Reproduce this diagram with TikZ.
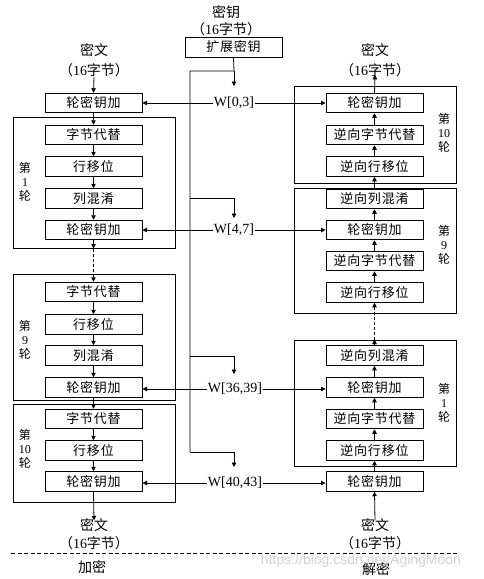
\documentclass[tikz,border=0pt]{standalone}
\usepackage{fontspec}
\setmainfont{Liberation Serif}
\setsansfont{Liberation Sans}
\newfontfamily\cjk{Noto Sans CJK SC}
\newfontfamily\cjkbox[LetterSpace=6]{Noto Sans CJK SC}
\usetikzlibrary{arrows.meta}
\begin{document}
\begin{tikzpicture}[x=1pt,y=-1pt,
 blk/.style={draw,line width=1pt,minimum width=97pt,minimum height=19.5pt,inner sep=0pt,font=\cjkbox\fontsize{13}{15}\selectfont},
 rnd/.style={draw,line width=1pt,inner sep=0pt,minimum width=162pt},
 arr/.style={-{Triangle[length=4.5pt,width=4.5pt]},line width=0.8pt},
 dsh/.style={arr,dash pattern=on 3pt off 2pt},
 lbl/.style={font=\cjk\fontsize{12}{16}\selectfont,align=center,inner sep=0pt},
 wl/.style={font=\fontsize{14}{16}\selectfont,inner sep=1pt},
 ttl/.style={font=\cjk\fontsize{14}{18}\selectfont,inner sep=0pt},
 num/.style={font=\fontsize{14}{18}\selectfont,inner sep=0pt}]
\useasboundingbox (0,0) rectangle (483,579);
% outer round boxes
\node[rnd,minimum height=131pt] (L1) at (94,182.5) {};
\node[rnd,minimum height=126pt] (L9) at (94,337) {};
\node[rnd,minimum height=98pt] (L10) at (94,453) {};
\node[rnd,minimum height=97pt] (R10) at (375,134.5) {};
\node[rnd,minimum height=125pt] (R9) at (375,250.5) {};
\node[rnd,minimum height=126pt] (R1) at (375,403) {};
% round labels
\node[lbl] (lL1) at (25,182) {第\\[-2pt]{\rmfamily 1}\\[-2pt]轮};
\node[lbl] (lL9) at (25,340) {第\\[-2pt]{\rmfamily 9}\\[-2pt]轮};
\node[lbl] (lL10) at (25,449) {第\\[-2pt]{\rmfamily 10}\\[-2pt]轮};
\node[lbl] (lR10) at (444,133) {第\\[-2pt]{\rmfamily 10}\\[-2pt]轮};
\node[lbl] (lR9) at (444,245) {第\\[-2pt]{\rmfamily 9}\\[-2pt]轮};
\node[lbl] (lR1) at (444,403) {第\\[-2pt]{\rmfamily 1}\\[-2pt]轮};
% left column
\node[ttl] (lt1) at (94,50) {密文};
\node[ttl] (lt2) at (94,70) {（{\rmfamily 16}字节）};
\node[blk] (k0) at (93.5,103) {轮密钥加};
\node[blk] (a1) at (93.5,135) {字节代替};
\node[blk] (b1) at (93.5,166.5) {行移位};
\node[blk] (c1) at (93.5,198.5) {列混淆};
\node[blk] (d1) at (93.5,230) {轮密钥加};
\node[blk] (a9) at (93.5,292) {字节代替};
\node[blk] (b9) at (93.5,324.5) {行移位};
\node[blk] (c9) at (93.5,355.5) {列混淆};
\node[blk] (d9) at (93.5,387.5) {轮密钥加};
\node[blk] (a10) at (93.5,419) {字节代替};
\node[blk] (b10) at (93.5,450.5) {行移位};
\node[blk] (d10) at (93.5,481.5) {轮密钥加};
\node[ttl] (lb1) at (94,525) {密文};
\node[ttl] (lb2) at (94,543) {（{\rmfamily 16}字节）};
% right column
\node[ttl] (rt1) at (375,50) {密文};
\node[ttl] (rt2) at (375,70) {（{\rmfamily 16}字节）};
\node[blk] (r10k) at (374.5,103) {轮密钥加};
\node[blk] (r10sb) at (374.5,135) {逆向字节代替};
\node[blk] (r10sr) at (374.5,166.5) {逆向行移位};
\node[blk] (r9mc) at (374.5,199) {逆向列混淆};
\node[blk] (r9k) at (374.5,230) {轮密钥加};
\node[blk] (r9sb) at (374.5,261) {逆向字节代替};
\node[blk] (r9sr) at (374.5,292.5) {逆向行移位};
\node[blk] (r1mc) at (374.5,355.5) {逆向列混淆};
\node[blk] (r1k) at (374.5,387.5) {轮密钥加};
\node[blk] (r1sb) at (374.5,419) {逆向字节代替};
\node[blk] (r1sr) at (374.5,450.5) {逆向行移位};
\node[blk] (r0k) at (374.5,481.5) {轮密钥加};
\node[ttl] (rb1) at (375,525) {密文};
\node[ttl] (rb2) at (375,543) {（{\rmfamily 16}字节）};
% key
\node[ttl] (kt1) at (226,12) {密钥};
\node[ttl] (kt2) at (226,29) {（{\rmfamily 16}字节）};
\node[blk,minimum height=20pt] (ke) at (233.5,47) {扩展密钥};
\coordinate (j0) at (234,71);
\coordinate (v0) at (190,71);
\coordinate (v1) at (190,198);
\coordinate (v2) at (190,356);
\coordinate (v3) at (190,452);
\coordinate (t0) at (234,86);
\coordinate (t1) at (234,218);
\coordinate (t2) at (234,374);
\coordinate (t3) at (234,467);
\node[wl] (w0) at (234,103) {W[0,3]};
\node[wl] (w1) at (234,230) {W[4,7]};
\node[wl] (w2) at (235,389) {W[36,39]};
\node[wl] (w3) at (235,483) {W[40,43]};
\draw[line width=0.8pt] (ke.south) -- (j0) -- (v0) -- (v3);
\draw[arr] (j0) -- (t0);
\draw[arr] (v1) -| (t1);
\draw[arr] (v2) -| (t2);
\draw[arr] (v3) -| (t3);
\draw[arr] (w0.west) -- (k0.east);
\draw[arr] (w0.east) -- (r10k.west);
\draw[arr] (w1.west) -- (d1.east);
\draw[arr] (w1.east) -- (r9k.west);
\draw[arr] (w2.west) -- (d9.east |- w2.west);
\draw[arr] (w2.east) -- (r1k.west |- w2.east);
\draw[arr] (w3.west) -- (d10.east |- w3.west);
\draw[arr] (w3.east) -- (r0k.west |- w3.east);
% left flow
\draw[arr] (lt2.south) -- (k0.north);
\draw[arr] (k0) -- (a1);
\draw[arr] (a1) -- (b1);
\draw[arr] (b1) -- (c1);
\draw[arr] (c1) -- (d1);
\draw[arr] (d1.south) -- (d1.south |- L1.south);
\draw[dsh] (d1.south |- L1.south) -- (a9.north);
\draw[arr] (a9) -- (b9);
\draw[arr] (b9) -- (c9);
\draw[arr] (c9) -- (d9);
\draw[arr] (d9) -- (a10);
\draw[arr] (a10) -- (b10);
\draw[arr] (b10) -- (d10);
\draw[arr] (d10.south) -- ([yshift=-2pt]lb1.north);
% right flow
\draw[arr] ([yshift=-2pt]rb1.north) -- (r0k.south);
\draw[arr] (r0k) -- (r1sr);
\draw[arr] (r1sr) -- (r1sb);
\draw[arr] (r1sb) -- (r1k);
\draw[arr] (r1k) -- (r1mc);
\draw[arr] (r1mc.north) -- (r1mc.north |- R1.north);
\draw[dsh] (r1mc.north |- R1.north) -- (r9sr.south);
\draw[arr] (r9sr) -- (r9sb);
\draw[arr] (r9sb) -- (r9k);
\draw[arr] (r9k) -- (r9mc);
\draw[arr] (r9mc) -- (r10sr);
\draw[arr] (r10sr) -- (r10sb);
\draw[arr] (r10sb) -- (r10k);
\draw[arr] (r10k.north) -- ([yshift=2pt]rt2.south);
% bottom
\coordinate (dl) at (11,553);
\coordinate (dr) at (457,553);
\draw[line width=0.8pt,dash pattern=on 4pt off 2.5pt] (dl) -- (dr);
\node[ttl] (enc) at (92,567) {加密};
\node[ttl] (dec) at (376,569) {解密};
\node[font=\sffamily\fontsize{14}{16}\selectfont,text=black!18,inner sep=0pt] (wm) at (361,561) {https://blog.csdn.net/AgingMoon};
\end{tikzpicture}
\end{document}
